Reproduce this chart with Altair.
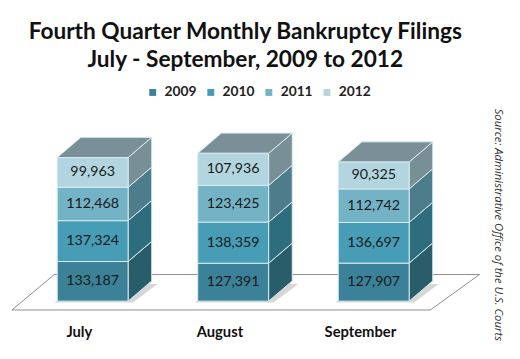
import altair as alt
import pandas as pd

# ---------------- data ----------------
months = ["July", "August", "September"]
years = ["2009", "2010", "2011", "2012"]
f2009 = [133187, 127391, 127907]
f2010 = [137324, 138359, 136697]
f2011 = [112468, 123425, 112742]
f2012 = [99963, 107936, 90325]
series = [f2009, f2010, f2011, f2012]
title_lines = ["Fourth Quarter Monthly Bankruptcy Filings",
               "July - September, 2009 to 2012"]
source_text = "Source: Administrative Office of the U.S. Courts"

# ---------------- styles ----------------
front_colors = ["#3b8198", "#469db5", "#74b3c6", "#b3d5df"]
side_colors = ["#2a5d6a", "#2e6d7d", "#4d7d8a", "#788f96"]
top_color = "#7a8f97"
edge_color = "#d6ecf2"
FONT = "Lato"

# ---------------- geometry (pixel-based style constants) ----------------
W, H = 482, 210
UX = 142.75           # pixels per month slot
UY = 3310.0           # filings per pixel
x_dom = [-86 / UX, (W - 86) / UX]
y_dom = [-15 * UY, (H - 15) * UY]
half = 36 / UX        # half width of the front face
ddx = 24 / UX         # 3D depth, x
ddy = 20.5 * UY       # 3D depth, y

front, side, top, shadow = [], [], [], []
for i, m in enumerate(months):
    base = 0
    for k, y in enumerate(years):
        v = series[k][i]
        y0, y1 = base, base + v
        base = y1
        front.append(dict(xi=i, xl=i - half, xr=i + half, y0=y0, y1=y1,
                          mid=(y0 + y1) / 2, year=y, val=f"{v:,}"))
        key = f"{i}-{y}"
        side.append(dict(key=key, side_year=y, x=i + half, y=y0, y2=y1))
        side.append(dict(key=key, side_year=y, x=i + half + ddx, y=y0 + ddy, y2=y1 + ddy))
    top.append(dict(m=m, y=base, x=i - half, x2=i + half))
    top.append(dict(m=m, y=base + ddy, x=i - half + ddx, x2=i + half + ddx))
    shadow.append(dict(m=m, y=-1.5 * UY, x=i - half - 3 / UX, x2=i + half + 5 / UX))
    shadow.append(dict(m=m, y=ddy - 3 * UY, x=i - half + ddx, x2=i + half + ddx + 6 / UX))

floor = pd.DataFrame([
    dict(y=-9 * UY, x=-82 / UX, x2=343 / UX),
    dict(y=27 * UY, x=-39 / UX, x2=393 / UX),
])
front = pd.DataFrame(front)
side = pd.DataFrame(side)
top = pd.DataFrame(top)
shadow = pd.DataFrame(shadow)

xs = alt.Scale(domain=x_dom, nice=False, zero=False)
ys = alt.Scale(domain=y_dom, nice=False, zero=False)

label_expr = "datum.value == 0 ? '%s' : (datum.value == 1 ? '%s' : '%s')" % tuple(months)

x_axis = alt.Axis(
    values=[0, 1, 2], labelExpr=label_expr, title=None, domain=False,
    ticks=False, grid=False, labelFont=FONT, labelFontSize=15,
    labelFontWeight="bold", labelColor="#111", labelPadding=9,
    labelOffset=-14)
y_axis = alt.Axis(
    orient="right", labels=False, ticks=False, domain=False, grid=False,
    title=source_text, titleAngle=90, titleFont="Open Sans",
    titleFontStyle="italic", titleFontWeight="normal", titleFontSize=11.5,
    titleColor="#333", titleX=15, titleY=117, titleAlign="center",
    titleBaseline="middle")

floor_layer = alt.Chart(floor).mark_area(
    orient="horizontal", fill="white", stroke="#8c8c8c", strokeWidth=1
).encode(
    y=alt.Y("y:Q", scale=ys, axis=y_axis),
    x=alt.X("x:Q", scale=xs, axis=x_axis),
    x2="x2:Q",
)

shadow_layer = alt.Chart(shadow).mark_area(
    orient="horizontal", fill="#8a8a8a", opacity=0.35
).encode(
    y=alt.Y("y:Q", scale=ys),
    x=alt.X("x:Q", scale=xs),
    x2="x2:Q",
    detail="m:N",
)

front_layer = alt.Chart(front).mark_rect(stroke=edge_color, strokeWidth=1).encode(
    x=alt.X("xl:Q", scale=xs),
    x2="xr:Q",
    y=alt.Y("y0:Q", scale=ys),
    y2="y1:Q",
    color=alt.Color("year:N", scale=alt.Scale(domain=years, range=front_colors),
                    legend=alt.Legend(
                        orient="none", legendX=140, legendY=-24,
                        direction="horizontal", title=None, symbolType="square",
                        symbolSize=49, symbolStrokeWidth=0, labelFont=FONT,
                        labelFontSize=14, labelFontWeight="bold",
                        labelColor="#222", columnPadding=7, labelOffset=5)),
)

side_layer = alt.Chart(side).mark_area(stroke=edge_color, strokeWidth=1).encode(
    x=alt.X("x:Q", scale=xs),
    y=alt.Y("y:Q", scale=ys),
    y2="y2:Q",
    detail="key:N",
    fill=alt.Fill("side_year:N", scale=alt.Scale(range=side_colors),
                  legend=None),
)

top_layer = alt.Chart(top).mark_area(
    orient="horizontal", fill=top_color, stroke=edge_color, strokeWidth=1
).encode(
    y=alt.Y("y:Q", scale=ys),
    x=alt.X("x:Q", scale=xs),
    x2="x2:Q",
    detail="m:N",
)

text_layer = alt.Chart(front).mark_text(
    font=FONT, fontSize=14.5, color="#1a1a1a"
).encode(
    x=alt.X("xi:Q", scale=xs),
    y=alt.Y("mid:Q", scale=ys),
    text="val:N",
)

chart = alt.layer(
    floor_layer, shadow_layer, side_layer, top_layer, front_layer, text_layer
).properties(
    width=W, height=H,
    padding={"left": 0, "top": 100, "right": 30, "bottom": 41},
    autosize=alt.AutoSizeParams(type="none"),
    title=alt.TitleParams(
        text=title_lines, font=FONT, fontSize=23, fontWeight="bold",
        color="#111", anchor="middle", frame="group", orient="top",
        offset=14, lineHeight=28),
).configure_view(strokeWidth=0)

chart.save("out.html", embed_options={"renderer": "svg", "actions": False})
